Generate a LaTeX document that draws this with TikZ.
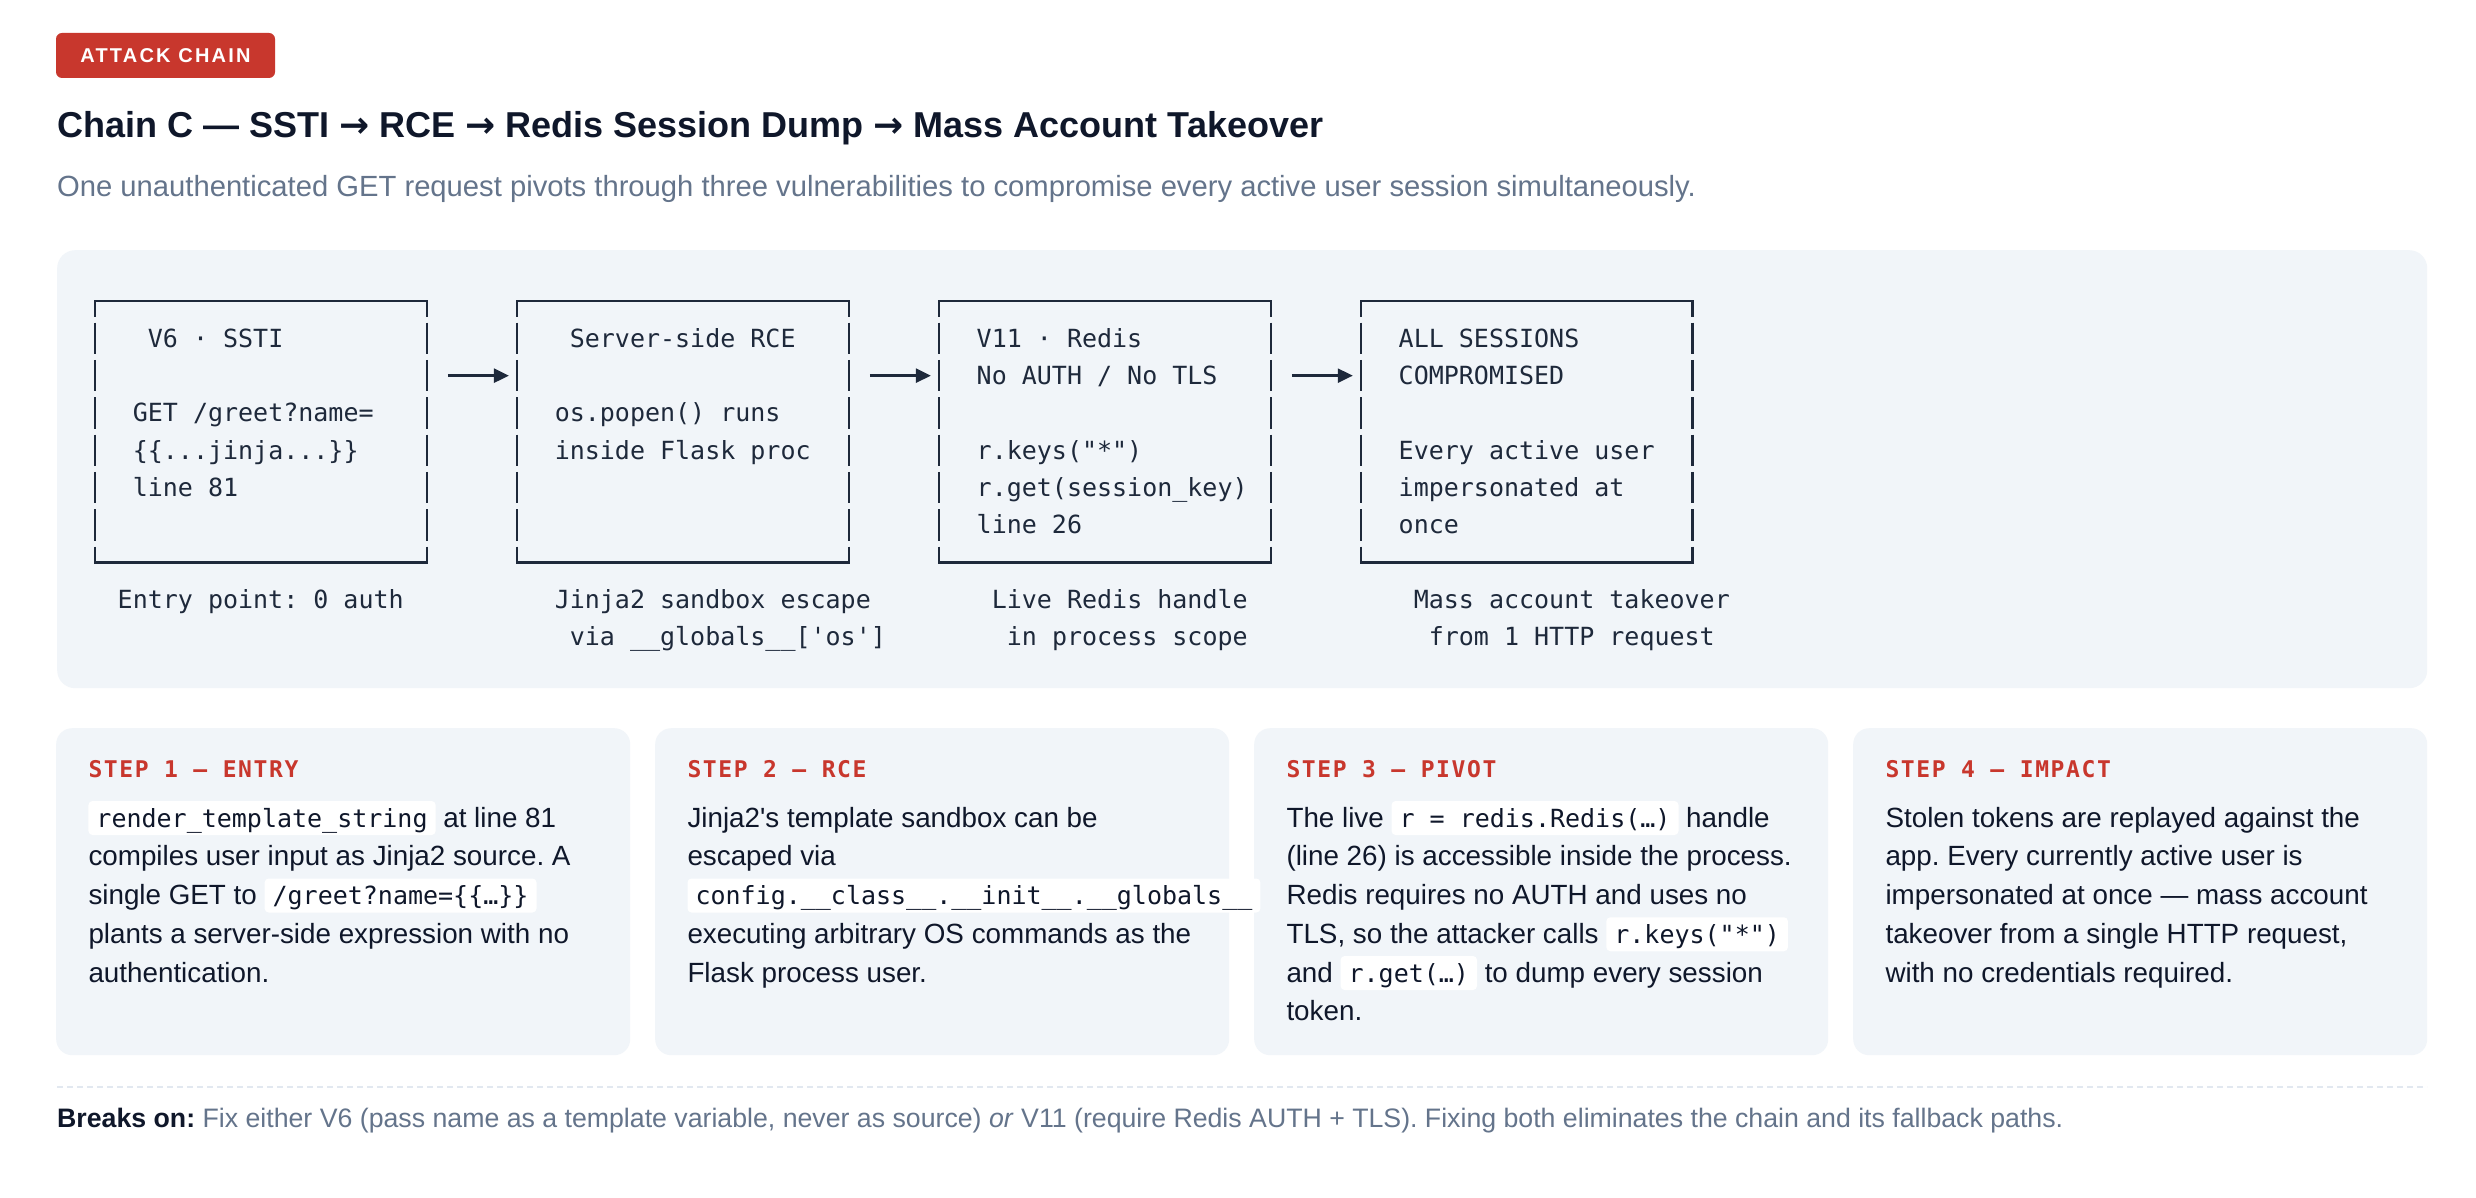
\documentclass[tikz,border=0pt]{standalone}
\usepackage{fontspec}
\setmainfont{Liberation Sans}
\newfontfamily\mono{DejaVu Sans Mono}
\newfontfamily\monols[LetterSpace=7]{DejaVu Sans Mono}
\newfontfamily\badgefont[LetterSpace=11]{Liberation Sans}
\newfontfamily\arrowfont{DejaVu Sans}
\usetikzlibrary{arrows.meta}
\frenchspacing
\definecolor{ink}{HTML}{0F172A}
\definecolor{boxink}{HTML}{1E293B}
\definecolor{slate}{HTML}{64748B}
\definecolor{panel}{HTML}{F1F5F9}
\definecolor{redc}{HTML}{C8372D}
\definecolor{rule}{HTML}{E2E8F0}
\newcommand\fs[1]{\fontsize{#1}{#1}\selectfont}
\newcommand\tarr{{\arrowfont\bfseries\fs{36}→}}
\newcommand\code[1]{\tikz[baseline=(cb.base)]\node[codebox](cb){#1};}
\newcommand\ascline[4]{\node[asc] (#1) at ({87.4+#2*15.07},{310+#3*37.33}) {#4};}
\tikzset{
 badge/.style={fill=redc, text=white, rounded corners=6pt, minimum width=219pt, minimum height=45pt, inner sep=0pt, font=\badgefont\bfseries\fs{20}},
 titletext/.style={anchor=base west, inner sep=0pt, text=ink, font=\bfseries\fs{36}},
 subtext/.style={anchor=base west, inner sep=0pt, text=slate, font=\fs{29.2}},
 panelbox/.style={fill=panel, rounded corners=18pt, anchor=north west, inner sep=0pt},
 card/.style={fill=panel, rounded corners=16pt, anchor=north west, inner sep=0pt, minimum width=574pt, minimum height=327pt},
 asciibox/.style={anchor=north west, inner sep=0pt, minimum width=331.5pt, minimum height=261.33pt},
 boxline/.style={draw=boxink, line width=2.5pt, line cap=rect},
 boxside/.style={draw=boxink, line width=2.5pt, dash pattern=on 31.33pt off 6pt, dash phase=15.67pt},
 asc/.style={anchor=base west, inner sep=0pt, text=boxink, font=\mono\fs{25}},
 arr/.style={draw=boxink, line width=2.5pt, -{Triangle[length=15pt,width=14pt]}},
 stephead/.style={anchor=base west, inner sep=0pt, text=redc, font=\monols\bfseries\fs{23}},
 body/.style={anchor=base west, inner sep=0pt, text=ink, font=\fs{27.8}},
 codebox/.style={fill=white, rounded corners=4pt, inner xsep=8pt, inner ysep=0pt, text height=26pt, text depth=8pt, text=ink, font=\mono\fs{25}, anchor=base},
 footrule/.style={draw=rule, line width=2pt, dash pattern=on 6pt off 4pt},
 foot/.style={anchor=base west, inner sep=0pt, text=slate, font=\fs{26.7}},
}
\begin{document}
\begin{tikzpicture}[x=1pt,y=-1pt]
\fill[white] (0,0) rectangle (2476,1198);
\useasboundingbox (0,0) rectangle (2476,1198);

% header
\node[badge] (badge) at (165.5,55.5) {ATTACK CHAIN};
\node[titletext] (title) at (57,138) {Chain C — SSTI \tarr{} RCE \tarr{} Redis Session Dump \tarr{} Mass Account Takeover};
\node[subtext] (sub) at (57,197) {One unauthenticated GET request pivots through three vulnerabilities to compromise every active user session simultaneously.};

% diagram panel
\node[panelbox, minimum width=2370pt, minimum height=438pt] (panel) at (57,250) {};

\node[asciibox] (b1) at (94.94,301) {};
\node[asciibox] (b2) at (516.9,301) {};
\node[asciibox] (b3) at (938.86,301) {};
\node[asciibox] (b4) at (1360.8,301) {};
\foreach \b in {b1,b2,b3,b4}{
  \draw[boxline] (\b.north west) -- (\b.north east);
  \draw[boxline] (\b.south west) -- (\b.south east);
  \draw[boxside] (\b.north west) -- (\b.south west);
  \draw[boxside] (\b.north east) -- (\b.south east);
}
\draw[arr] ([xshift=21pt,yshift=-74.67pt]b1.north east) -- ([xshift=-8pt,yshift=-74.67pt]b2.north west);
\draw[arr] ([xshift=21pt,yshift=-74.67pt]b2.north east) -- ([xshift=-8pt,yshift=-74.67pt]b3.north west);
\draw[arr] ([xshift=21pt,yshift=-74.67pt]b3.north east) -- ([xshift=-8pt,yshift=-74.67pt]b4.north west);

\ascline{t1a}{4}{1}{V6 · SSTI}
\ascline{t1b}{3}{3}{GET /greet?name=}
\ascline{t1c}{3}{4}{\{\{...jinja...\}\}}
\ascline{t1d}{3}{5}{line 81}
\ascline{t2a}{32}{1}{Server-side RCE}
\ascline{t2b}{31}{3}{os.popen() runs}
\ascline{t2c}{31}{4}{inside Flask proc}
\ascline{t3a}{59}{1}{V11 · Redis}
\ascline{t3b}{59}{2}{No AUTH / No TLS}
\ascline{t3c}{59}{4}{r.keys("*")}
\ascline{t3d}{59}{5}{r.get(session\_key)}
\ascline{t3e}{59}{6}{line 26}
\ascline{t4a}{87}{1}{ALL SESSIONS}
\ascline{t4b}{87}{2}{COMPROMISED}
\ascline{t4c}{87}{4}{Every active user}
\ascline{t4d}{87}{5}{impersonated at}
\ascline{t4e}{87}{6}{once}

\ascline{l1a}{2}{8}{Entry point: 0 auth}
\ascline{l2a}{31}{8}{Jinja2 sandbox escape}
\ascline{l2b}{32}{9}{via \_\_globals\_\_[\textquotesingle os\textquotesingle]}
\ascline{l3a}{60}{8}{Live Redis handle}
\ascline{l3b}{61}{9}{in process scope}
\ascline{l4a}{88}{8}{Mass account takeover}
\ascline{l4b}{89}{9}{from 1 HTTP request}

% step cards
\node[card] (c1) at (56,728) {};
\node[card] (c2) at (655,728) {};
\node[card] (c3) at (1254,728) {};
\node[card] (c4) at (1853,728) {};

\node[stephead] (h1) at ([xshift=32.3pt,yshift=-49pt]c1.north west) {STEP 1 — ENTRY};
\node[stephead] (h2) at ([xshift=32.3pt,yshift=-49pt]c2.north west) {STEP 2 — RCE};
\node[stephead] (h3) at ([xshift=32.3pt,yshift=-49pt]c3.north west) {STEP 3 — PIVOT};
\node[stephead] (h4) at ([xshift=32.3pt,yshift=-49pt]c4.north west) {STEP 4 — IMPACT};

\node[body] (s1a) at (88.3,827) {\code{render\_template\_string} at line 81};
\node[body] (s1b) at (88.3,865.75) {compiles user input as Jinja2 source. A};
\node[body] (s1c) at (88.3,904.5) {single GET to \code{/greet?name=\{\{…\}\}}};
\node[body] (s1d) at (88.3,943.25) {plants a server-side expression with no};
\node[body] (s1e) at (88.3,982) {authentication.};

\node[body] (s2a) at (687.3,827) {Jinja2\textquotesingle s template sandbox can be};
\node[body] (s2b) at (687.3,865.75) {escaped via};
\node[body] (s2c) at (687.3,904.5) {\code{config.\_\_class\_\_.\_\_init\_\_.\_\_globals\_\_}};
\node[body] (s2d) at (687.3,943.25) {executing arbitrary OS commands as the};
\node[body] (s2e) at (687.3,982) {Flask process user.};

\node[body] (s3a) at (1286.3,827) {The live \code{r = redis.Redis(…)} handle};
\node[body] (s3b) at (1286.3,865.75) {(line 26) is accessible inside the process.};
\node[body] (s3c) at (1286.3,904.5) {Redis requires no AUTH and uses no};
\node[body] (s3d) at (1286.3,943.25) {TLS, so the attacker calls \code{r.keys("*")}};
\node[body] (s3e) at (1286.3,982) {and \code{r.get(…)} to dump every session};
\node[body] (s3f) at (1286.3,1020.75) {token.};

\node[body] (s4a) at (1885.3,827) {Stolen tokens are replayed against the};
\node[body] (s4b) at (1885.3,865.75) {app. Every currently active user is};
\node[body] (s4c) at (1885.3,904.5) {impersonated at once — mass account};
\node[body] (s4d) at (1885.3,943.25) {takeover from a single HTTP request,};
\node[body] (s4e) at (1885.3,982) {with no credentials required.};

% footer
\draw[footrule] (57,1087) -- (2427,1087);
\node[foot] (foot) at (57,1127) {{\color{ink}\bfseries Breaks on:} Fix either V6 (pass name as a template variable, never as source) \textit{or} V11 (require Redis AUTH + TLS). Fixing both eliminates the chain and its fallback paths.};
\end{tikzpicture}
\end{document}
